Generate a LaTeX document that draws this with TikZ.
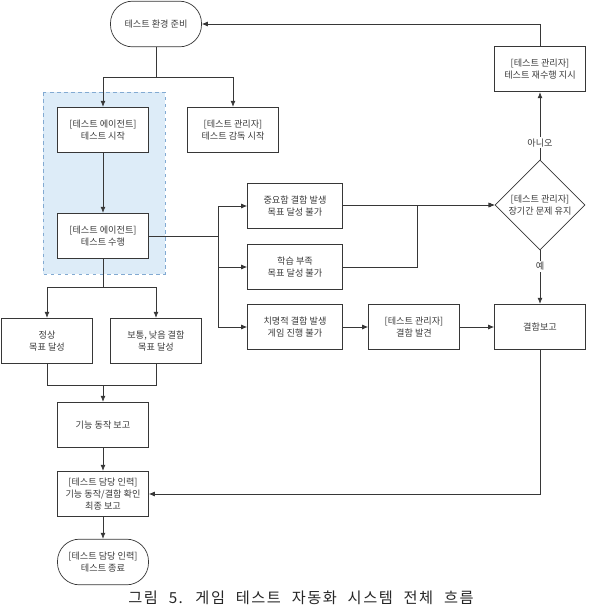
\documentclass[tikz,border=0pt]{standalone}
\usepackage{fontspec}
\setmainfont{Noto Sans CJK KR}
\newfontfamily\captionfont[LetterSpace=10, WordSpace=2.2]{Noto Sans CJK KR}
\usepackage{tikz}
\usetikzlibrary{positioning, arrows.meta, calc, shapes.geometric}
\definecolor{linegray}{RGB}{55,55,55}
\definecolor{textgray}{RGB}{60,60,60}
\definecolor{areablue}{RGB}{221,236,248}
\definecolor{areaborder}{RGB}{130,170,210}

\begin{document}
\begin{tikzpicture}[x=0.3mm, y=-0.3mm,
    box/.style={rectangle, draw=linegray, line width=0.6pt, fill=white, minimum width=27.3mm, minimum height=13.7mm, align=center, text=textgray, font=\fontsize{7.8}{10}\selectfont},
    terminal/.style={box, rounded corners=6.6mm},
    decision/.style={diamond, draw=linegray, line width=0.6pt, fill=white, minimum width=27mm, minimum height=27mm, inner sep=-3pt, align=center, text=textgray, font=\fontsize{7.8}{10}\selectfont},
    flow/.style={->, >={Latex[length=1.8mm, width=1.5mm]}, line width=0.6pt, linegray},
    line/.style={-, line width=0.6pt, linegray},
    label/.style={fill=white, inner sep=1pt, text=textgray, font=\fontsize{7.8}{9}\selectfont}
]
\useasboundingbox (0,0) rectangle (593,608);

%영역 (테스트 에이전트)
\draw[dashed, draw=areaborder, fill=areablue] (43,92) rectangle (165,274);

% Nodi
\node[terminal] (start) at (156,24) {테스트 환경 준비};
\node[box] (agentstart) at (103,130) {[테스트 에이전트]\\테스트 시작};
\node[box] (supervise) at (233,130) {[테스트 관리자]\\테스트 감독 시작};
\node[box] (agentrun) at (103,236) {[테스트 에이전트]\\테스트 수행};

\node[box, minimum width=28.5mm] (critical) at (295,206) {중요함 결함 발생\\목표 달성 불가};
\node[box, minimum width=28.5mm] (learn) at (295,267) {학습 부족\\목표 달성 불가};
\node[box, minimum width=28.5mm] (fatal) at (295,327) {치명적 결함 발생\\게임 진행 불가};
\node[box] (found) at (414,327) {[테스트 관리자]\\결함 발견};
\node[box] (report) at (540,327) {결함보고};
\node[decision] (decide) at (540,205) {[테스트 관리자]\\장기간 문제 유지};
\node[box] (retry) at (540,69) {[테스트 관리자]\\테스트 재수행 지시};

\node[box] (normal) at (47,341) {정상\\목표 달성};
\node[box] (minor) at (156,341) {보통, 낮음 결함\\목표 달성};
\node[box] (funcreport) at (103,425) {기능 동작 보고};
\node[box] (final) at (103,494) {[테스트 담당 인력]\\기능 동작/결함 확인\\최종 보고};
\node[terminal] (finish) at (103,562) {[테스트 담당 인력]\\테스트 종료};

% Punti di snodo
\coordinate (split1) at (156,77);
\coordinate (split2) at (218,236);
\coordinate (join) at (417,205);
\coordinate (split3) at (103,287);
\coordinate (merge) at (103,385);

% Edges
\draw[line] (start) -- (split1);
\draw[flow] (split1) -| (agentstart);
\draw[flow] (split1) -| (supervise);
\draw[flow] (agentstart) -- (agentrun);

\draw[line] (agentrun) -- (split2);
\draw[flow] (split2) |- (critical.west);
\draw[flow] (split2) |- (learn);
\draw[flow] (split2) |- (fatal);

\draw[flow] (critical.east |- decide) -- (decide);
\draw[flow] (learn) -| (join) -- (decide);
\draw[flow] (decide) -- node[label, pos=0.25] {아니오} (retry);
\draw[flow] (retry) |- (start);
\draw[flow] (decide) -- node[label, pos=0.3] {예} (report);
\draw[flow] (fatal) -- (found);
\draw[flow] (found) -- (report);
\draw[flow] (report) |- (final);

\draw[line] (agentrun) -- (split3);
\draw[flow] (split3) -| (normal);
\draw[flow] (split3) -| (minor);
\draw[line] (normal) |- (merge);
\draw[line] (minor) |- (merge);
\draw[flow] (merge) -- (funcreport);
\draw[flow] (funcreport) -- (final);
\draw[flow] (final) -- (finish);

% Didascalia
\node[font=\fontsize{13}{15}\captionfont, text=black!85] (caption) at (301,598) {그림 5. 게임 테스트 자동화 시스템 전체 흐름};

\end{tikzpicture}
\end{document}
